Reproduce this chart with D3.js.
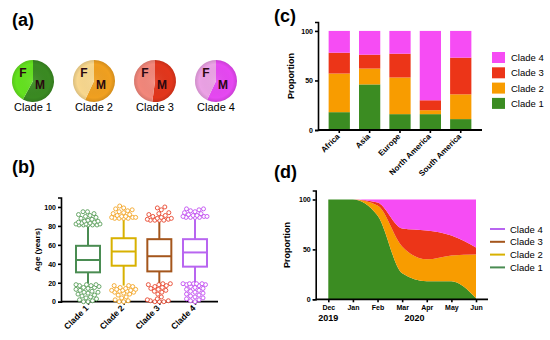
<!DOCTYPE html>
<html>
<head>
<script src="https://cdn.jsdelivr.net/npm/d3@7"></script>
<style>
  body { margin: 0; background: #fff; }
  svg { font-family: "Liberation Sans", Arial, sans-serif; }
  .axis path, .axis line { stroke: #000; stroke-width: 1.6; }
  .axis text { font-weight: bold; font-size: 7px; fill: #000; }
</style>
</head>
<body>
<svg width="550" height="340"></svg>
<script>
// ---- data ----
const clades = ['Clade 1', 'Clade 2', 'Clade 3', 'Clade 4'];

// (a) share of male patients per clade
const maleShare = [0.58, 0.57, 0.52, 0.57];

// (b) age box plots
const q1 = [31, 38, 32, 37];
const median = [44, 53, 48, 52];
const q3 = [59, 67, 66, 66];
const whiskLow = [19, 17, 19, 19];
const whiskHigh = [80, 88, 86, 89];
const outHigh = [
  [81, 81, 81, 81, 81, 82, 82, 82, 83, 83, 84, 84, 85, 85, 86, 87, 88, 89, 90, 91, 92, 93, 95, 95],
  [88, 88, 88, 88, 89, 89, 89, 90, 90, 91, 92, 93, 94, 95, 96, 97, 98, 99, 101],
  [86, 86, 86, 86, 87, 87, 88, 88, 89, 90, 91, 92, 93, 94, 97, 99, 100],
  [89, 89, 89, 89, 90, 90, 90, 91, 91, 92, 93, 94, 95, 96, 97, 98, 98]
];
const outLow = [
  [0, 0, 1, 2, 3, 4, 5, 6, 7, 8, 9, 10, 10, 11, 12, 13, 14, 15, 15, 16, 17, 17, 18, 18, 18],
  [0, 0, 1, 2, 4, 5, 7, 8, 9, 10, 10, 11, 11, 12, 12, 12, 13, 13, 14, 15, 16, 17, 17],
  [0, 0, 0, 1, 1, 2, 3, 5, 8, 10, 11, 12, 13, 14, 15, 16, 17, 18, 18, 19, 19],
  [0, 1, 2, 3, 4, 5, 6, 7, 8, 9, 10, 11, 12, 13, 14, 15, 16, 17, 18, 18, 19, 19, 19, 19, 19]
];
const ageTicks = [0, 20, 40, 60, 80, 100];

// (c) clade proportion by region
const regions = ['Africa', 'Asia', 'Europe', 'North America', 'South America'];
const regClade1 = [18, 46, 16, 16, 11];
const regClade2 = [39, 16, 37, 4, 25];
const regClade3 = [21, 14, 24, 10, 37];
const regClade4 = [22, 24, 23, 70, 27];

// (d) clade proportion over time
const months = ['Dec', 'Jan', 'Feb', 'Mar', 'Apr', 'May', 'Jun'];
const timeClade1 = [100, 100, 84, 26, 18, 18, 1];
const timeClade2 = [0, 0, 10, 27, 22, 26, 44];
const timeClade3 = [0, 0, 3, 18, 29, 20, 7];
const timeClade4 = [0, 0, 3, 29, 31, 36, 48];
const years = ['2019', '2020'];
const yearAt = [0, 3.5];
const propTicks = [0, 50, 100];

// ---- colours ----
const pieF = ['#64e21f', '#f8d78e', '#f2877b', '#eba2e5'];
const pieM = ['#3a8a22', '#f0a020', '#e2361c', '#e648f2'];
const lineCol = ['#4a8c52', '#d8b100', '#a4561c', '#b865f0'];
const dotCol = ['#5a9e5a', '#f3a526', '#e8452c', '#c24ff0'];
const fillCol = ['#3b8c22', '#f89c00', '#ec3518', '#f64cf4'];

const svg = d3.select('svg');
const defs = svg.append('defs');
const shade = defs.append('radialGradient').attr('id', 'shade');
shade.append('stop').attr('offset', '0%').attr('stop-color', '#fff').attr('stop-opacity', 0.08);
shade.append('stop').attr('offset', '80%').attr('stop-color', '#000').attr('stop-opacity', 0);
shade.append('stop').attr('offset', '100%').attr('stop-color', '#000').attr('stop-opacity', 0.12);

// panel letters
[['(a)', 12, 26], ['(b)', 12, 173], ['(c)', 274, 22], ['(d)', 274, 178]].forEach(p => {
  svg.append('text').attr('x', p[1]).attr('y', p[2])
    .attr('font-size', 18).attr('font-weight', 'bold').text(p[0]);
});

/***** (a) pies *****/
const pieX = d3.scalePoint().domain(clades).range([33, 216]);
const pie = d3.pie().sort(null);
const arc = d3.arc().innerRadius(0).outerRadius(21);
clades.forEach((c, i) => {
  const g = svg.append('g').attr('transform', `translate(${pieX(c)},81)`);
  g.selectAll('path')
    .data(pie([maleShare[i], 1 - maleShare[i]]))
    .join('path')
    .attr('d', arc)
    .attr('fill', (d, j) => j === 0 ? pieM[i] : pieF[i]);
  g.append('circle').attr('r', 21).attr('fill', 'url(#shade)');
  g.append('text').attr('x', -10).attr('y', -4).attr('text-anchor', 'middle')
    .attr('font-size', 12).attr('font-weight', 'bold').attr('fill', '#2a0810').text('F');
  g.append('text').attr('x', 7).attr('y', 8).attr('text-anchor', 'middle')
    .attr('font-size', 12).attr('font-weight', 'bold').attr('fill', '#2a0810').text('M');
  svg.append('text').attr('x', pieX(c)).attr('y', 111).attr('text-anchor', 'middle')
    .attr('font-size', 11).text(c);
});

/***** (b) box plots *****/
const bLeft = 61, bRight = 218, bBottom = 301.7;
const yAge = d3.scaleLinear().domain([0, 110]).range([bBottom, 197.5]);
const xClade = d3.scalePoint().domain(clades).range([88, 195]);

const gB = svg.append('g');
gB.append('g').attr('class', 'axis').attr('transform', `translate(${bLeft},0)`)
  .call(d3.axisLeft(yAge).tickValues(ageTicks).tickSize(3).tickPadding(2));
gB.append('g').attr('class', 'axis').attr('transform', `translate(0,${bBottom})`)
  .call(d3.axisBottom(xClade).tickSize(3).tickFormat(''))
  .call(g => g.select('.domain').remove());
gB.append('line').attr('x1', bLeft).attr('x2', bRight).attr('y1', bBottom).attr('y2', bBottom)
  .attr('stroke', '#000').attr('stroke-width', 1.8);
clades.forEach(c => {
  gB.append('text').attr('transform', `translate(${xClade(c) + 1},${bBottom + 7}) rotate(-45)`)
    .attr('text-anchor', 'end').attr('font-size', 8.5).attr('font-weight', 'bold').text(c);
});
gB.append('text').attr('transform', `translate(40,250) rotate(-90)`)
  .attr('text-anchor', 'middle').attr('font-size', 8).attr('font-weight', 'bold').text('Age (years)');

// compact beeswarm placement of outlier circles, kept within +-maxW px
function swarm(vals, r, maxW) {
  const placed = [];
  vals.slice().sort((a, b) => a - b).forEach(v => {
    const py = yAge(v);
    let best = 0, bestGap = -Infinity;
    for (let cand = -maxW; cand <= maxW; cand += 0.5) {
      const gap = placed.length ? d3.min(placed, p => Math.hypot(p.dx - cand, p.y - py)) : 99;
      const score = Math.min(gap, 2 * r + 0.3) - Math.abs(cand) * 0.01;
      if (score > bestGap) { bestGap = score; best = cand; }
    }
    placed.push({ dx: best, y: py });
  });
  return placed;
}

const boxW = 24;
clades.forEach((c, i) => {
  const cx = xClade(c);
  const col = lineCol[i];
  gB.append('line').attr('x1', cx).attr('x2', cx).attr('y1', yAge(q3[i])).attr('y2', yAge(whiskHigh[i]))
    .attr('stroke', col).attr('stroke-width', 2);
  gB.append('line').attr('x1', cx).attr('x2', cx).attr('y1', yAge(q1[i])).attr('y2', yAge(whiskLow[i]))
    .attr('stroke', col).attr('stroke-width', 2);
  const dots = swarm(outHigh[i], 2, 12).concat(swarm(outLow[i], 2, 12));
  gB.append('g').selectAll('circle').data(dots).join('circle')
    .attr('cx', d => cx + d.dx).attr('cy', d => d.y).attr('r', 2)
    .attr('fill', '#fff').attr('stroke', dotCol[i]).attr('stroke-width', 0.9);
  gB.append('rect').attr('x', cx - boxW / 2).attr('width', boxW)
    .attr('y', yAge(q3[i])).attr('height', yAge(q1[i]) - yAge(q3[i]))
    .attr('fill', '#fff').attr('stroke', col).attr('stroke-width', 2);
  gB.append('line').attr('x1', cx - boxW / 2).attr('x2', cx + boxW / 2)
    .attr('y1', yAge(median[i])).attr('y2', yAge(median[i]))
    .attr('stroke', col).attr('stroke-width', 2);
});

/***** (c) stacked bars *****/
const cLeft = 318, cRight = 482, cBottom = 130;
const regRows = regions.map((r, i) => ({
  region: r, 'Clade 1': regClade1[i], 'Clade 2': regClade2[i], 'Clade 3': regClade3[i], 'Clade 4': regClade4[i]
}));
const yProp = d3.scaleLinear().domain([0, 109]).range([cBottom, 22]);
const xReg = d3.scaleBand().domain(regions).range([cLeft, cRight]).paddingInner(0.3).paddingOuter(0.35);
const stackC = d3.stack().keys(clades)(regRows);

const gC = svg.append('g');
stackC.forEach((layer, k) => {
  gC.append('g').selectAll('rect').data(layer).join('rect')
    .attr('x', d => xReg(d.data.region)).attr('width', xReg.bandwidth())
    .attr('y', d => yProp(d[1])).attr('height', d => yProp(d[0]) - yProp(d[1]))
    .attr('fill', fillCol[k]);
});
gC.append('g').attr('class', 'axis').attr('transform', `translate(${cLeft},0)`)
  .call(d3.axisLeft(yProp).tickValues(propTicks).tickSize(3).tickPadding(2));
gC.append('g').attr('class', 'axis').attr('transform', `translate(0,${cBottom})`)
  .call(d3.axisBottom(xReg).tickSize(3).tickFormat(''))
  .call(g => g.select('.domain').remove());
gC.append('line').attr('x1', cLeft).attr('x2', cRight).attr('y1', cBottom).attr('y2', cBottom)
  .attr('stroke', '#000').attr('stroke-width', 1.8);
regions.forEach(r => {
  gC.append('text').attr('transform', `translate(${xReg(r) + xReg.bandwidth() / 2 + 1},${cBottom + 7}) rotate(-45)`)
    .attr('text-anchor', 'end').attr('font-size', 8).attr('font-weight', 'bold').text(r);
});
gC.append('text').attr('transform', `translate(294,76) rotate(-90)`)
  .attr('text-anchor', 'middle').attr('font-size', 9).attr('font-weight', 'bold').text('Proportion');

const legC = gC.append('g').attr('transform', 'translate(492,52)');
clades.slice().reverse().forEach((c, j) => {
  const k = clades.indexOf(c);
  legC.append('rect').attr('x', 0).attr('y', j * 15.3).attr('width', 13).attr('height', 11).attr('fill', fillCol[k]);
  legC.append('text').attr('x', 19).attr('y', j * 15.3 + 9).attr('font-size', 9.5).text(c);
});

/***** (d) stacked areas *****/
const dLeft = 315.7, dRight = 488, dBottom = 299.3;
const timeRows = months.map((m, i) => ({
  i: i, 'Clade 1': timeClade1[i], 'Clade 2': timeClade2[i], 'Clade 3': timeClade3[i], 'Clade 4': timeClade4[i]
}));
const xMonth = d3.scaleLinear().domain([0, months.length - 1]).range([328.3, 476]);
const yTime = d3.scaleLinear().domain([0, 109]).range([dBottom, 190.5]);
const stackD = d3.stack().keys(clades)(timeRows);
const area = d3.area().curve(d3.curveMonotoneX)
  .x(d => xMonth(d.data.i)).y0(d => yTime(d[0])).y1(d => yTime(d[1]));

const gD = svg.append('g');
gD.selectAll('path.area').data(stackD).join('path')
  .attr('class', 'area').attr('d', area).attr('fill', (d, k) => fillCol[k]);
gD.append('g').attr('class', 'axis').attr('transform', `translate(${dLeft},0)`)
  .call(d3.axisLeft(yTime).tickValues(propTicks).tickSize(3).tickPadding(2));
gD.append('g').attr('class', 'axis').attr('transform', `translate(0,${dBottom})`)
  .call(d3.axisBottom(xMonth).tickValues(d3.range(months.length)).tickSize(3).tickPadding(3)
    .tickFormat(i => months[i]))
  .call(g => g.select('.domain').remove())
  .call(g => g.selectAll('text').attr('font-size', 8));
gD.append('line').attr('x1', dLeft).attr('x2', dRight).attr('y1', dBottom).attr('y2', dBottom)
  .attr('stroke', '#000').attr('stroke-width', 1.8);
years.forEach((y, j) => {
  gD.append('text').attr('x', xMonth(yearAt[j])).attr('y', 321).attr('text-anchor', 'middle')
    .attr('font-size', 9).attr('font-weight', 'bold').text(y);
});
gD.append('text').attr('transform', `translate(290,245) rotate(-90)`)
  .attr('text-anchor', 'middle').attr('font-size', 9).attr('font-weight', 'bold').text('Proportion');

const legD = gD.append('g').attr('transform', 'translate(490,229)');
clades.slice().reverse().forEach((c, j) => {
  const k = clades.indexOf(c);
  legD.append('line').attr('x1', 0).attr('x2', 15).attr('y1', j * 12.8).attr('y2', j * 12.8)
    .attr('stroke', lineCol[k]).attr('stroke-width', 2);
  legD.append('text').attr('x', 20).attr('y', j * 12.8 + 3.5).attr('font-size', 9.5).text(c);
});
</script>
</body>
</html>
